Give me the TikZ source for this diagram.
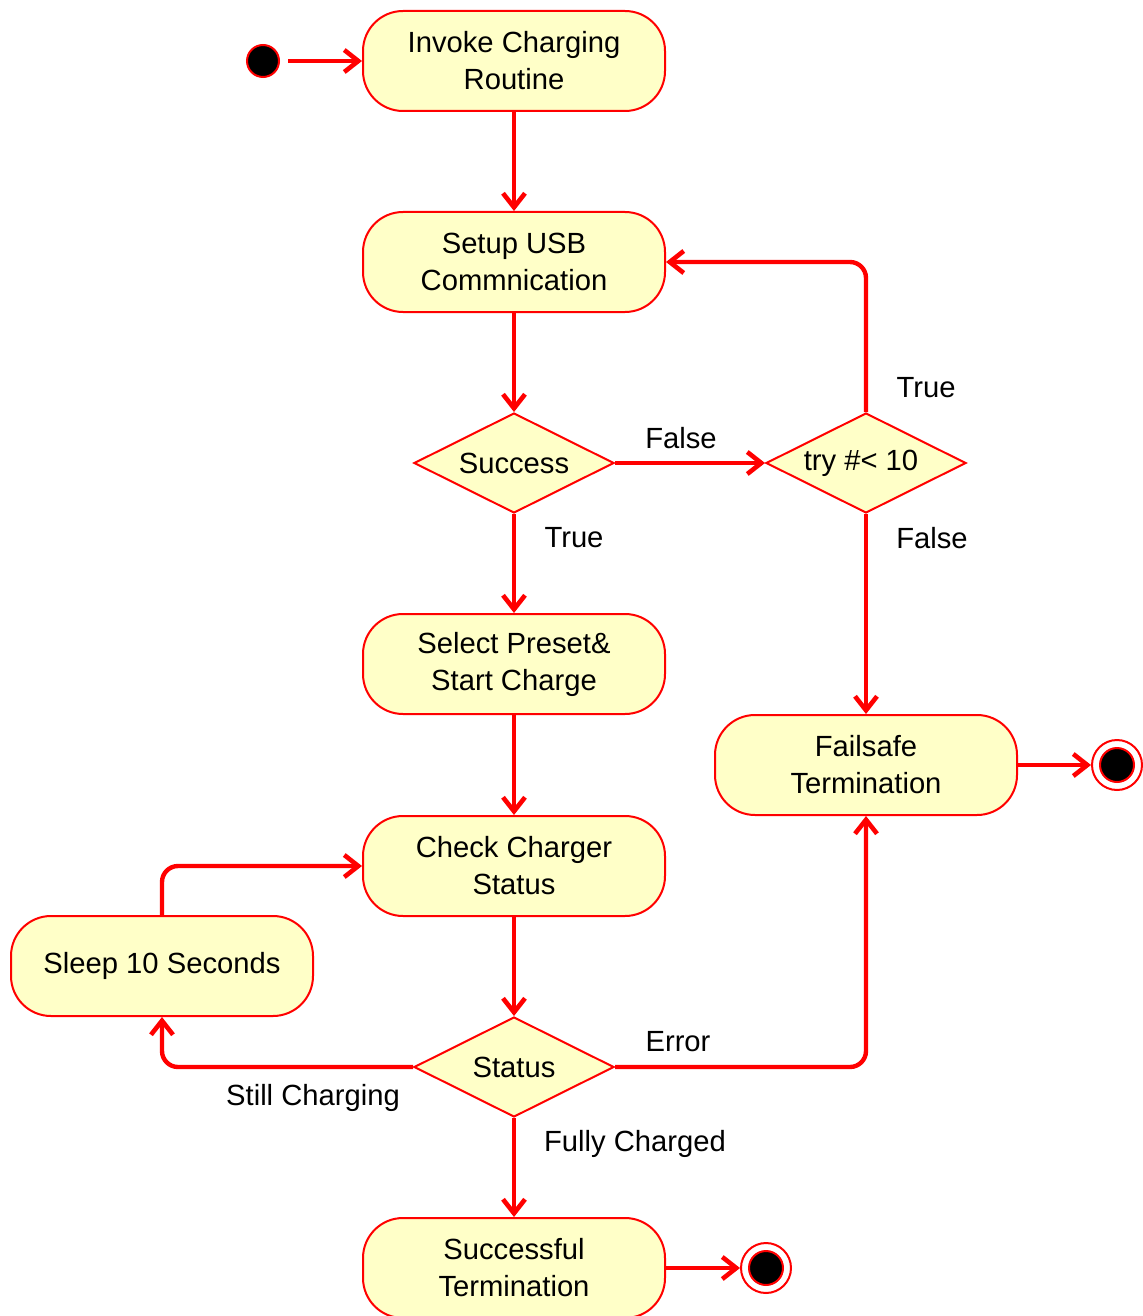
\documentclass[tikz,border=0pt]{standalone}
\usepackage{fontspec}
\setmainfont{Liberation Sans}
\usetikzlibrary{shapes.geometric,arrows.meta}
\definecolor{umlred}{RGB}{255,0,0}
\definecolor{umlfill}{RGB}{255,255,200}
\newcommand{\umlfont}{\fontsize{14.6}{18.5}\selectfont}

\tikzset{
    activity/.style={draw=umlred, fill=umlfill, line width=1pt, rounded corners=20pt,
        minimum width=151pt, minimum height=50pt, align=center, font=\umlfont},
    decision/.style={diamond, draw=umlred, fill=umlfill, line width=1pt, aspect=2,
        minimum width=100pt, minimum height=50pt, inner sep=0pt, font=\umlfont},
    guard/.style={font=\umlfont, inner sep=0pt},
    flow/.style={draw=umlred, line width=2.2pt, rounded corners=8pt,
        -{Straight Barb[length=7pt,width=11pt,line width=2.3pt]}},
}

\begin{document}
\begin{tikzpicture}[x=0.5pt, y=-0.5pt]
    \useasboundingbox (0, 0) rectangle (1143, 1316);

    % start and end points
    \node[circle, draw=umlred, fill=black, line width=1pt, minimum size=16pt, inner sep=0pt] (start) at (263, 61) {};
    \node[circle, draw=umlred, fill=white, line width=1pt, minimum size=25pt, inner sep=0pt] (endfail) at (1117, 765) {};
    \node[circle, draw=umlred, fill=black, line width=1pt, minimum size=17pt, inner sep=0pt] at (1117, 765) {};
    \node[circle, draw=umlred, fill=white, line width=1pt, minimum size=25pt, inner sep=0pt] (endok) at (766, 1268) {};
    \node[circle, draw=umlred, fill=black, line width=1pt, minimum size=17pt, inner sep=0pt] at (766, 1268) {};

    % activities
    \node[activity] (invoke) at (514, 61) {Invoke Charging\\Routine};
    \node[activity] (setup) at (514, 262) {Setup USB\\Commnication};
    \node[decision] (success) at (514, 463) {Success};
    \node[decision] (try) at (866, 463) {try \#< 10\hspace*{5pt}};
    \node[activity] (select) at (514, 664) {Select Preset\&\\Start Charge};
    \node[activity] (failsafe) at (866, 765) {Failsafe\\Termination};
    \node[activity] (check) at (514, 866) {Check Charger\\Status};
    \node[activity] (sleep) at (162, 966) {Sleep 10 Seconds};
    \node[decision] (status) at (514, 1067) {Status};
    \node[activity] (done) at (514, 1268) {Successful\\Termination};

    % flows
    \draw[flow, shorten <=4pt] (start) -- (invoke);
    \draw[flow] (invoke) -- (setup);
    \draw[flow] (setup) -- (success);
    \draw[flow] (success.east) -- (try.west);
    \draw[flow] (try.north) |- (setup.east);
    \draw[flow] (try.south) -- (failsafe.north);
    \draw[flow] (success.south) -- (select.north);
    \draw[flow] (select) -- (check);
    \draw[flow] (check) -- (status);
    \draw[flow] (status.west) -| (sleep.south);
    \draw[flow] (sleep.north) |- (check.west);
    \draw[flow] (status.east) -| (failsafe.south);
    \draw[flow] (status.south) -- (done.north);
    \draw[flow] (failsafe.east) -- (endfail);
    \draw[flow] (done.east) -- (endok);

    % guards
    \node[guard] (gfalse1) at (681, 438) {False};
    \node[guard] (gtrue1) at (926, 388) {True};
    \node[guard] (gtrue2) at (574, 538) {True};
    \node[guard] (gfalse2) at (932, 538) {False};
    \node[guard] (gerror) at (678, 1042) {Error};
    \node[guard] (gstill) at (313, 1098) {Still Charging};
    \node[guard] (gfull) at (635, 1144) {Fully Charged};
\end{tikzpicture}
\end{document}
